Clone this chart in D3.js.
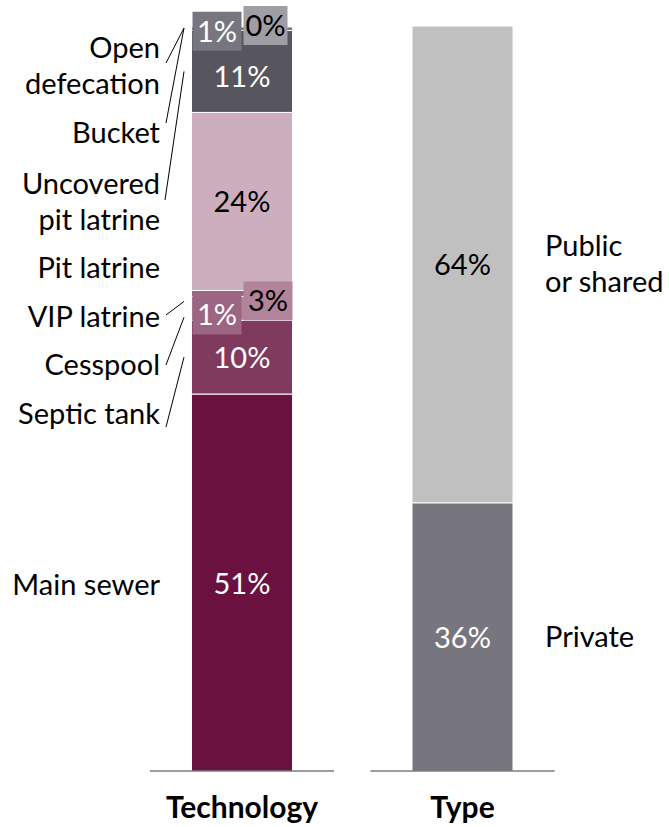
<!DOCTYPE html>
<html>
<head>
<meta charset="utf-8">
<script src="https://cdn.jsdelivr.net/npm/d3@7/dist/d3.min.js"></script>
<style>
  html, body { margin: 0; padding: 0; background: #fff; }
  svg { display: block; font-family: "Lato", "Open Sans", sans-serif; }
</style>
</head>
<body>
<svg id="chart" width="669" height="827"></svg>
<script>
// ---- data ----
const categories = ["Technology", "Type"];
// Technology stack, bottom to top
const techNames = ["Main sewer", "Septic tank", "Cesspool", "VIP latrine", "Pit latrine", "Uncovered pit latrine", "Bucket", "Open defecation"];
const techValues = [50.6, 9.9, 3.2, 0.8, 23.9, 11.0, 0.5, 0.1];
const techLabels = ["51%", "10%", "3%", "1%", "24%", "11%", "1%", "0%"];
const techColors = ["#6a113f", "#803a5e", "#b1849b", "#9c6582", "#cdaebf", "#57565f", "#77767f", "#9f9ea5"];
const techTextColors = ["#fff", "#fff", "#000", "#fff", "#000", "#fff", "#fff", "#000"];
// Type stack, bottom to top
const typeNames = ["Private", "Public\nor shared"];
const typeValues = [36, 64];
const typeLabels = ["36%", "64%"];
const typeColors = ["#77767e", "#c0c0c0"];
const typeTextColors = ["#fff", "#000"];

// ---- layout ----
const svg = d3.select("#chart");
const FS = 29;
const y = d3.scaleLinear().domain([0, 100]).range([771, 26]);
const x = d3.scalePoint().domain(categories).range([242, 462.5]);
const barW = 101;

function stack(vals) {
  let acc = 0;
  return vals.map(v => { const s = acc; acc += v; return [s, acc]; });
}
const techStack = stack(techValues);
const typeStack = stack(typeValues);

// bars
function drawBar(cat, st, colors) {
  svg.append("g").selectAll("rect").data(st).join("rect")
    .attr("x", x(cat) - barW / 2)
    .attr("width", barW)
    .attr("y", d => y(d[1]))
    .attr("height", d => y(d[0]) - y(d[1]))
    .attr("fill", (d, i) => colors[i])
    .attr("stroke", "#fff")
    .attr("stroke-width", 1);
}
drawBar("Technology", techStack, techColors);
drawBar("Type", typeStack, typeColors);

// baselines
svg.append("g").selectAll("line").data(categories).join("line")
  .attr("x1", d => x(d) - 92).attr("x2", d => x(d) + 92)
  .attr("y1", y(0)).attr("y2", y(0))
  .attr("stroke", "#3a3a3a").attr("stroke-width", 1);

// value labels in the technology bar
const tx = x("Technology");
const boxedTags = {
  7: { x0: 52, w: 44, ty: -20 },   // Open defecation 0%
  6: { x0: 1, w: 49, ty: -15 },    // Bucket 1%
  2: { x0: 52, w: 49, ty: -15 },   // Cesspool 3%
  3: { x0: 1, w: 49, ty: 5 }       // VIP 1%
};
const gl = svg.append("g");
techStack.forEach((d, i) => {
  const tag = boxedTags[i];
  if (tag) {
    const bx = tx - barW / 2 + tag.x0;
    const by = y(d[1]) + tag.ty;
    gl.append("rect").attr("x", bx).attr("y", by).attr("width", tag.w).attr("height", 39)
      .attr("fill", techColors[i]);
    gl.append("text").attr("x", bx + tag.w / 2).attr("y", by + 30)
      .attr("text-anchor", "middle").attr("font-size", FS).attr("fill", techTextColors[i])
      .text(techLabels[i]);
  } else {
    const extra = i === 5 ? 5 : 0;
    gl.append("text").attr("x", tx).attr("y", (y(d[0]) + y(d[1])) / 2 + 11 + extra)
      .attr("text-anchor", "middle").attr("font-size", FS).attr("fill", techTextColors[i])
      .text(techLabels[i]);
  }
});
// type labels
const tyx = x("Type");
typeStack.forEach((d, i) => {
  gl.append("text").attr("x", tyx).attr("y", (y(d[0]) + y(d[1])) / 2 + 11)
    .attr("text-anchor", "middle").attr("font-size", FS).attr("fill", typeTextColors[i])
    .text(typeLabels[i]);
});

// left category names (technology)
const leftLabelLines = {
  "Main sewer": ["Main sewer"],
  "Septic tank": ["Septic tank"],
  "Cesspool": ["Cesspool"],
  "VIP latrine": ["VIP latrine"],
  "Pit latrine": ["Pit latrine"],
  "Uncovered pit latrine": ["Uncovered", "pit latrine"],
  "Bucket": ["Bucket"],
  "Open defecation": ["Open", "defecation"]
};
// baseline of first line for each label
const leftLabelY = [595, 424, 375, 327, 278, 194, 143, 58];
const LH = 36;
const gn = svg.append("g").attr("font-size", FS).attr("fill", "#000");
techNames.forEach((n, i) => {
  const t = gn.append("text").attr("text-anchor", "end").attr("x", 160).attr("y", leftLabelY[i]);
  leftLabelLines[n].forEach((ln, k) => {
    t.append("tspan").attr("x", 160).attr("dy", k === 0 ? 0 : LH).text(ln);
  });
});

// leader lines
const leaders = [
  { i: 7, x1: 166, y1: 63, ty: y(100) + 2 },
  { i: 6, x1: 166, y1: 123, ty: y(100) + 2 },
  { i: 5, x1: 165, y1: 200, ty: (y(techStack[5][0]) + y(techStack[5][1])) / 2 },
  { i: 3, x1: 166, y1: 315, ty: y(techStack[3][0]) + 5 },
  { i: 2, x1: 166, y1: 365, ty: y(techStack[2][0]) - 3 },
  { i: 1, x1: 166, y1: 427, ty: (y(techStack[1][0]) + y(techStack[1][1])) / 2 }
];
svg.append("g").selectAll("line").data(leaders).join("line")
  .attr("x1", d => d.x1).attr("y1", d => d.y1)
  .attr("x2", 184).attr("y2", d => d.ty)
  .attr("stroke", "#000").attr("stroke-width", 1);

// right names (type)
const rightLabelY = [647, 256];
const gr = svg.append("g").attr("font-size", FS).attr("fill", "#000");
typeNames.forEach((n, i) => {
  const t = gr.append("text").attr("x", 545).attr("y", rightLabelY[i]);
  n.split("\n").forEach((ln, k) => {
    t.append("tspan").attr("x", 545).attr("dy", k === 0 ? 0 : LH).text(ln);
  });
});

// category axis labels
svg.append("g").selectAll("text").data(categories).join("text")
  .attr("x", d => x(d)).attr("y", 818)
  .attr("text-anchor", "middle").attr("font-size", 30).attr("font-weight", "bold")
  .text(d => d);
</script>
</body>
</html>
